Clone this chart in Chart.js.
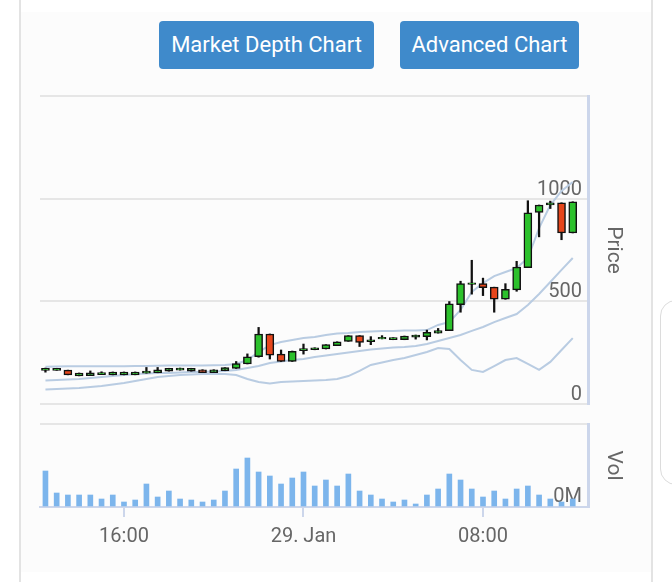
<!DOCTYPE html>
<html>
<head>
<meta charset="utf-8">
<script src="https://cdn.jsdelivr.net/npm/chart.js@4.4.1/dist/chart.umd.min.js"></script>
<style>
html, body { margin: 0; padding: 0; background: #fff; width: 672px; height: 582px; overflow: hidden; font-family: Roboto, sans-serif; }
#panel { position: absolute; left: 20px; top: 12px; width: 631px; height: 560px; background: #fcfcfc; }
.vline { position: absolute; top: 0; width: 2px; height: 582px; background: #e3e3e3; }
.btn { position: absolute; top: 21px; height: 48px; background: #3f8acb; color: #fff; border-radius: 4px; font-size: 22px; line-height: 48px; text-align: center; }
#card { position: absolute; left: 660px; top: 300px; width: 40px; height: 183px; border: 1px solid #dcdcdc; border-radius: 16px; background: #fff; }
#priceBox { position: absolute; left: 0; top: 80px; width: 640px; height: 330px; }
#volBox { position: absolute; left: 0; top: 410px; width: 640px; height: 172px; }
</style>
</head>
<body>
<div id="panel"></div>
<div class="vline" style="left:19px"></div>
<div class="vline" style="left:651px"></div>
<div id="card"></div>
<div class="btn" style="left:159px;width:215px">Market Depth Chart</div>
<div class="btn" style="left:400px;width:179px">Advanced Chart</div>
<div id="priceBox"><canvas id="priceChart"></canvas></div>
<div id="volBox"><canvas id="volChart"></canvas></div>
<script>
// half-hour candles, hours counted from 28 Jan 00:00
const hours = [12.5, 13, 13.5, 14, 14.5, 15, 15.5, 16, 16.5, 17, 17.5, 18, 18.5, 19, 19.5, 20,
    20.5, 21, 21.5, 22, 22.5, 23, 23.5, 24, 24.5, 25, 25.5, 26, 26.5, 27, 27.5, 28,
    28.5, 29, 29.5, 30, 30.5, 31, 31.5, 32, 32.5, 33, 33.5, 34, 34.5, 35, 35.5, 36];

const open = [164, 164, 165, 137, 138, 143, 142, 142, 142, 150, 152, 160, 165, 160, 167, 153,
    162, 173, 195, 230, 341, 243, 207, 260, 264, 268, 284, 305, 333, 304, 317, 313,
    313, 326, 328, 345, 357, 484, 582, 586, 569, 510, 556, 664, 933, 970, 980, 833];
const high = [175, 174, 165, 151, 161, 157, 156, 156, 156, 178, 178, 174, 175, 174, 167, 167,
    177, 207, 244, 373, 341, 263, 258, 292, 274, 289, 303, 333, 333, 328, 333, 323,
    331, 336, 360, 368, 499, 598, 700, 613, 569, 586, 695, 990, 969, 988, 980, 985];
const low = [155, 164, 142, 137, 138, 143, 142, 142, 142, 150, 152, 160, 165, 160, 153, 153,
    162, 173, 195, 228, 219, 207, 207, 243, 264, 268, 284, 305, 280, 289, 317, 313,
    313, 316, 312, 345, 357, 447, 535, 528, 447, 510, 549, 664, 814, 952, 800, 833];
const close = [174, 174, 142, 151, 152, 153, 156, 156, 156, 160, 166, 174, 175, 174, 153, 167,
    177, 197, 230, 341, 238, 207, 256, 270, 274, 289, 303, 333, 300, 312, 325, 323,
    331, 336, 349, 358, 488, 586, 590, 566, 510, 559, 667, 931, 969, 980, 833, 985];

const upperBand = [181, 183, 184, 184, 184, 184, 184, 184, 185, 185, 186, 187, 187, 188, 188, 189,
    190, 195, 214, 253, 287, 302, 312, 321, 326, 336, 343, 346, 351, 353, 356, 356,
    358, 358, 360, 385, 399, 458, 546, 589, 623, 643, 662, 711, 857, 969, 1038, 1081];
const middleBand = [114, 117, 119, 122, 127, 132, 136, 141, 146, 149, 151, 151, 153, 156, 156, 158,
    161, 166, 175, 185, 200, 207, 214, 219, 229, 236, 244, 251, 258, 265, 270, 275,
    278, 283, 292, 307, 321, 336, 356, 375, 399, 419, 438, 482, 536, 594, 653, 711];
const lowerBand = [71, 73, 75, 78, 83, 88, 95, 102, 112, 122, 132, 136, 141, 144, 146, 146,
    146, 141, 122, 107, 100, 107, 110, 112, 114, 117, 122, 136, 161, 190, 202, 214,
    224, 239, 253, 273, 268, 214, 166, 156, 185, 214, 224, 195, 166, 205, 263, 321];

// volume pane, in axis units
const volume = [36, 14, 12, 12, 12, 8, 12, 5, 7, 23, 10, 16, 8, 7, 5, 7,
    16, 38, 49, 35, 31, 23, 29, 35, 21, 27, 21, 33, 16, 12, 8, 5,
    7, 3, 12, 18, 33, 27, 18, 10, 16, 8, 18, 21, 12, 8, 5, 8];

const priceTicks = [0, 500, 1000];
const tickHours = [16, 24, 32];
const tickLabels = ['16:00', '29. Jan', '08:00'];

Chart.defaults.font.family = 'Roboto';
Chart.defaults.color = '#666666';

const xRange = { min: 12.257, max: 36.68 };
const bandColor = '#b9cce2';

function pts(values) {
    return values.map((v, i) => ({ x: hours[i], y: v }));
}

const bodies = hours.map((h, i) => ({ x: h, y: [open[i], close[i]] }));
const wicks = hours.map((h, i) => ({ x: h, y: [low[i], high[i]] }));

function bandSet(values) {
    return {
        type: 'line',
        data: pts(values),
        borderColor: bandColor,
        borderWidth: 2,
        pointRadius: 0,
        order: 3
    };
}

// mirrored labels should not eat space above/below the plot
function fitRight(s) {
    s.width = 52;
    s.paddingTop = 0;
    s.paddingBottom = 0;
}

const priceConfig = {
    type: 'bar',
    data: {
        datasets: [{
            data: bodies,
            grouped: false,
            barThickness: 8,
            backgroundColor: bodies.map((b, i) => close[i] >= open[i] ? '#2cc12c' : '#e6461c'),
            borderColor: '#111',
            borderWidth: 1.5,
            borderSkipped: false,
            order: 1
        }, {
            data: wicks,
            grouped: false,
            barThickness: 1.6,
            backgroundColor: '#111',
            order: 2
        },
            bandSet(upperBand),
            bandSet(middleBand),
            bandSet(lowerBand)
        ]
    },
    options: {
        responsive: true,
        maintainAspectRatio: false,
        animation: false,
        layout: { padding: { left: 40, top: 16, right: 0, bottom: 6 } },
        plugins: { legend: { display: false }, tooltip: { enabled: false } },
        scales: {
            x: {
                type: 'linear',
                min: xRange.min,
                max: xRange.max,
                offset: false,
                display: false,
                grid: { offset: false }
            },
            y: {
                position: 'right',
                min: 0,
                max: 1500,
                afterFit: fitRight,
                ticks: {
                    stepSize: 500,
                    mirror: true,
                    padding: -6,
                    labelOffset: -9,
                    font: { size: 20 },
                    callback: v => priceTicks.includes(v) ? String(v) : ''
                },
                grid: { color: '#e6e6e6', lineWidth: 2, drawTicks: false },
                border: { display: true, color: '#ccd6eb', width: 3 },
                title: { display: true, text: 'Price', font: { size: 21 }, padding: { top: 14, bottom: 0 } }
            }
        }
    }
};

const volConfig = {
    type: 'bar',
    data: {
        datasets: [{
            data: pts(volume),
            barThickness: 5,
            backgroundColor: '#7cb5ec'
        }]
    },
    options: {
        responsive: true,
        maintainAspectRatio: false,
        animation: false,
        layout: { padding: { left: 40, top: 14, right: 0, bottom: 0 } },
        plugins: { legend: { display: false }, tooltip: { enabled: false } },
        scales: {
            x: {
                type: 'linear',
                min: xRange.min,
                max: xRange.max,
                offset: false,
                afterFit: s => { s.height = 75; },
                afterBuildTicks: s => { s.ticks = tickHours.map(v => ({ value: v })); },
                ticks: {
                    autoSkip: false,
                    maxRotation: 0,
                    padding: 8,
                    font: { size: 20 },
                    callback: v => tickLabels[tickHours.indexOf(v)]
                },
                grid: { offset: false, drawOnChartArea: false, drawTicks: true, tickLength: 10, color: '#ccd6eb', lineWidth: 2 },
                border: { display: true, color: '#ccd6eb', width: 2 }
            },
            y: {
                position: 'right',
                min: 0,
                max: 83,
                afterFit: fitRight,
                ticks: {
                    stepSize: 83,
                    mirror: true,
                    padding: -6,
                    labelOffset: -10,
                    font: { size: 20 },
                    callback: v => v === 0 ? '0M' : ''
                },
                grid: {
                    color: c => c.tick && c.tick.value === 0 ? 'rgba(0,0,0,0)' : '#e6e6e6',
                    lineWidth: 2,
                    drawTicks: false
                },
                border: { display: true, color: '#ccd6eb', width: 3 },
                title: { display: true, text: 'Vol', font: { size: 21 }, padding: { top: 14, bottom: 0 } }
            }
        }
    }
};

const priceChart = new Chart(document.getElementById('priceChart'), priceConfig);
const volChart = new Chart(document.getElementById('volChart'), volConfig);
</script>
</body>
</html>
